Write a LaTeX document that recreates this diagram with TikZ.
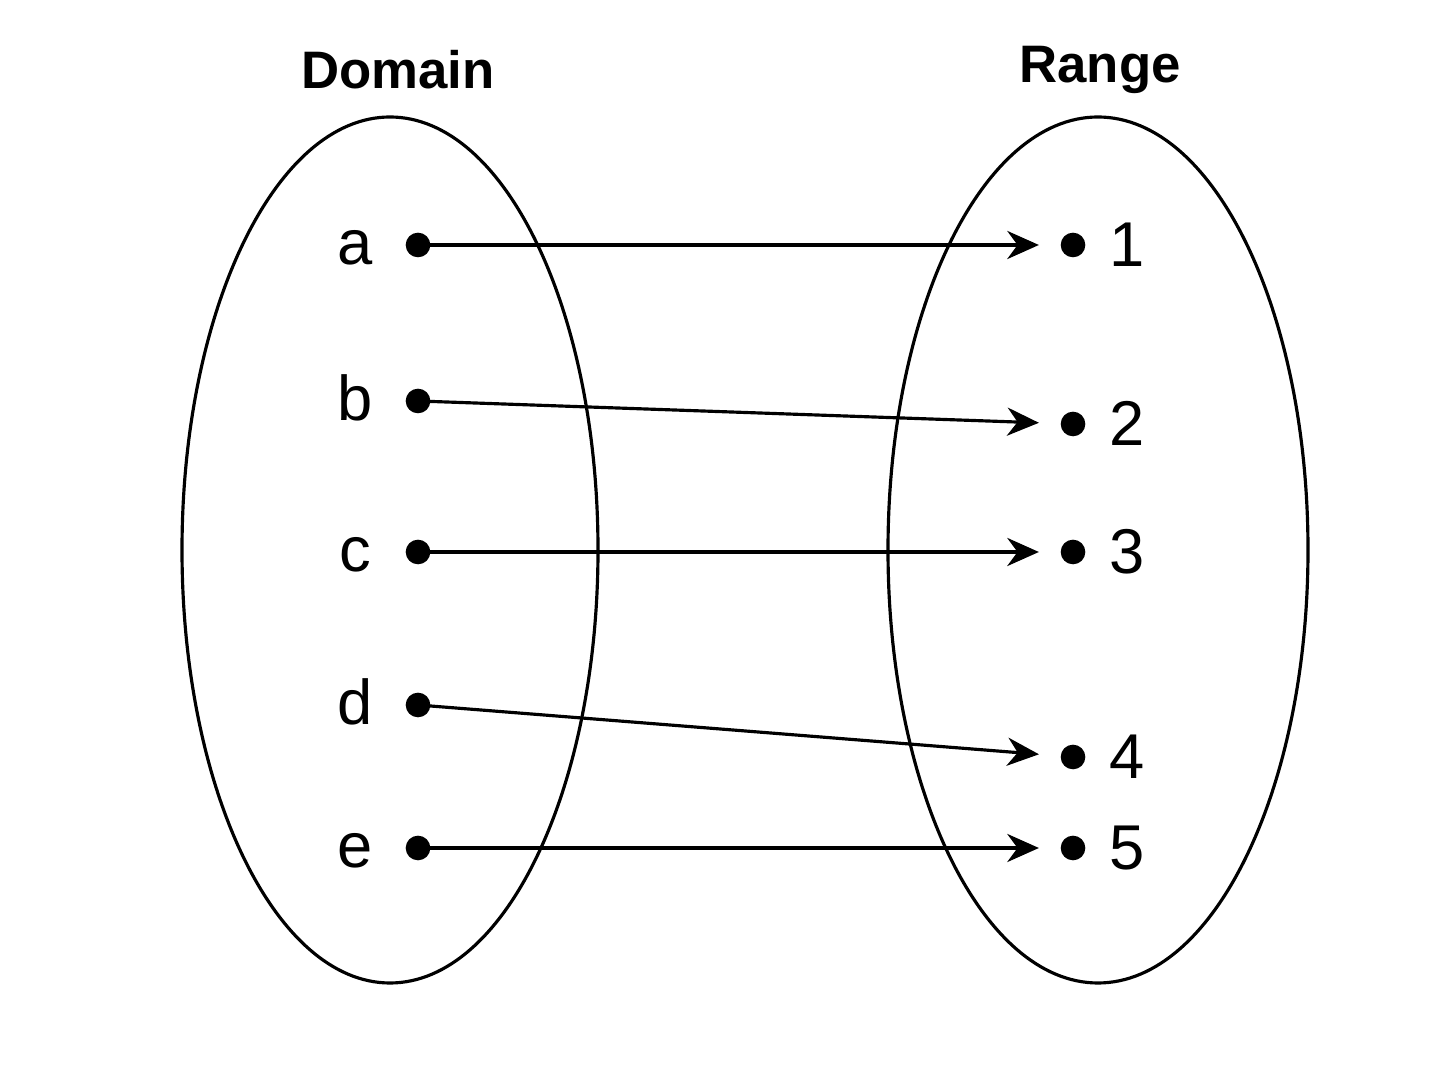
\documentclass[tikz,border=0pt]{standalone}
\usepackage{fontspec}
\setmainfont{Liberation Sans}
\usetikzlibrary{arrows.meta}
\begin{document}
\begin{tikzpicture}[x=0.01cm,y=-0.01cm,
  ell/.style={draw,line width=0.9pt},
  dot/.style={circle,fill,inner sep=0pt,minimum size=7pt},
  lab/.style={font=\fontsize{18}{20}\selectfont},
  ttl/.style={font=\bfseries\fontsize{15}{18}\selectfont},
  arr/.style={-{Stealth[length=9pt,width=8pt]},line width=0.9pt,shorten >=6pt}]
\useasboundingbox (0,0) rectangle (1448,1086);
\draw[ell] (390,550) ellipse [x radius=208, y radius=-433];
\draw[ell] (1098,550) ellipse [x radius=210, y radius=-433];
\node[ttl] (dom) at (398,70) {Domain};
\node[ttl] (ran) at (1100,70) {Range};
\foreach \n/\y in {a/245,b/401,c/552,d/705,e/848}{
  \node[dot] (\n) at (418,\y) {};
  \node[lab,anchor=base] (l\n) at (355,\y+20) {\n};
}
\foreach \n/\y in {1/245,2/424,3/552,4/757,5/848}{
  \node[dot] (r\n) at (1073,\y) {};
  \node[lab,anchor=base] (lr\n) at (1127,\y+22) {\n};
}
\draw[arr] (a.center) -- (r1);
\draw[arr] (b.center) -- (r2);
\draw[arr] (c.center) -- (r3);
\draw[arr] (d.center) -- (r4);
\draw[arr] (e.center) -- (r5);
\end{tikzpicture}
\end{document}
